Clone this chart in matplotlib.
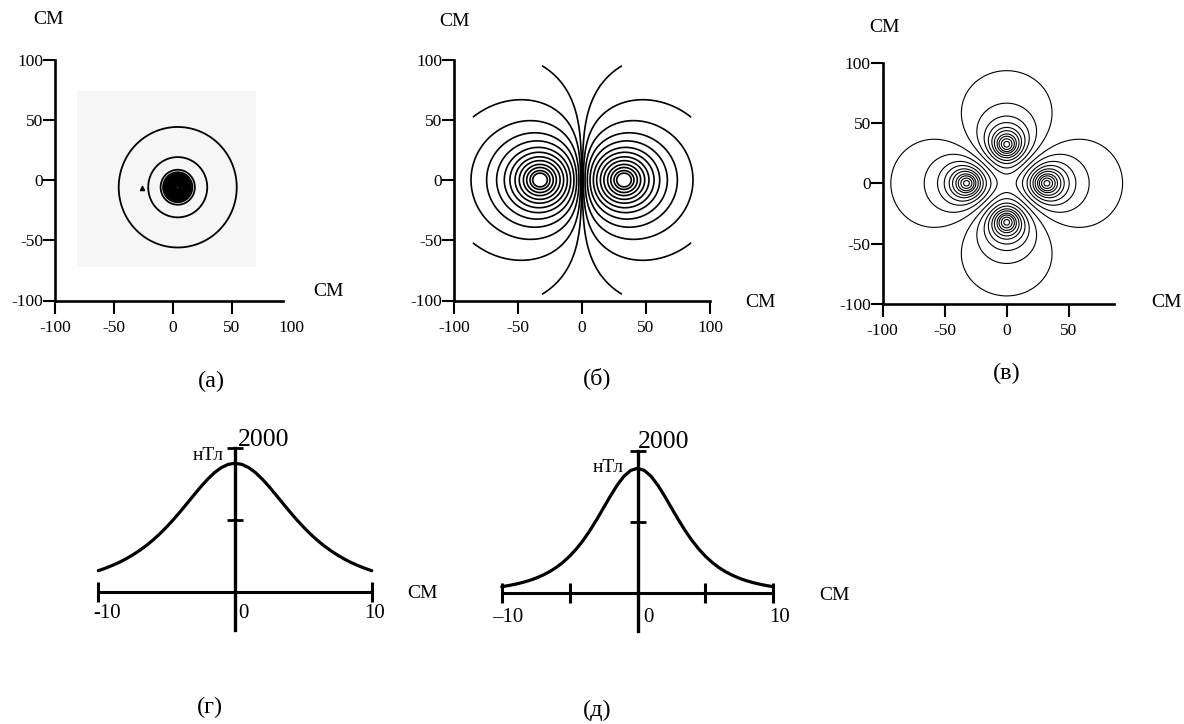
import numpy as np
import matplotlib
matplotlib.use('Agg')
import matplotlib.pyplot as plt

plt.rcParams['font.family'] = ['Liberation Serif', 'DejaVu Serif']
plt.rcParams['axes.unicode_minus'] = False

W, H = 1184, 724
fig = plt.figure(figsize=(W / 100, H / 100), dpi=100)

# ---------------- data ----------------
tick_vals = [-100, -50, 0, 50, 100]
tick_labels = ['-100', '-50', '0', '50', '100']
axis_unit = 'СМ'
field_unit = 'нТл'
panel_names = ['(а)', '(б)', '(в)', '(г)', '(д)']

# (а) single source: circle radii of the isolines (cm)
a_center = (4.0, -6.0)
a_radii = [50, 25, 14.5, 12.4, 11.2, 10.2, 9.5, 8.9, 8.3, 7.7, 7.1, 6.5,
           5.9, 5.3, 4.7, 4.1, 3.5, 2.9, 2.3, 1.7, 1.1]
a_grid_x = [-81, 70]
a_grid_y = [-72, 74]
a_mark = [(-26.5, -6.4)]

# (б) two opposite sources; isolines given by their x-axis crossings
b_src = [(-32.8, 0.0), (32.8, 0.0)]
b_sign = [1, -1]
b_kernel = (2, 0.0)          # power, depth
b_ring_x = [-86.7, -74.5, -66.7, -60.7, -56.3, -52.3, -49.0, -45.8, -43.2, -40.6, -38.5]
b_open_pts = [(-31.5, 95.0), (-84.4, 52.8)]
b_radius = 100

# (в) four alternating sources
c_src = [(31.0, 0.0), (0.0, 31.0), (-31.0, 0.0), (0.0, -31.0)]
c_sign = [1, -1, 1, -1]
c_kernel = (1, 15.0)         # power, depth
c_ring_x = [-93.3, -66.4, -55.7, -50.3, -46.3, -43.6, -40.9, -39.0, -36.9, -34.7]

# (г), (д) field profiles, nT
prof_x = np.linspace(-10, 10, 41)
g_vals = [300, 333, 371, 413, 462, 517, 579, 648, 726, 812, 908, 1011, 1121, 1236,
          1352, 1466, 1571, 1662, 1732, 1777, 1792, 1777, 1732, 1662, 1571, 1466,
          1352, 1236, 1121, 1011, 908, 812, 726, 648, 579, 517, 462, 413, 371, 333, 300]
d_vals = [93, 109, 128, 151, 178, 212, 253, 302, 362, 435, 522, 626, 747, 886,
          1040, 1204, 1369, 1522, 1648, 1731, 1760, 1731, 1648, 1522, 1369, 1204,
          1040, 886, 747, 626, 522, 435, 362, 302, 253, 212, 178, 151, 128, 109, 93]
prof_ticks_y = [0, 1000, 2000]
g_ticks_x = [-10, 10]
d_ticks_x = [-10, -5, 5, 10]


# ---------------- helpers ----------------
def axes_px(x0, x1, ytop, ybot):
    return fig.add_axes([x0 / W, 1 - ybot / H, (x1 - x0) / W, (ybot - ytop) / H])


def ftext(x, y, s, size, ha='center', va='center', **kw):
    fig.text(x / W, 1 - y / H, s, fontsize=size, ha=ha, va=va, **kw)


def field(X, Y, src, sign, kernel):
    n, h = kernel
    X = np.asarray(X, dtype=float)
    Y = np.asarray(Y, dtype=float)
    F = np.zeros_like(X)
    for (sx, sy), s in zip(src, sign):
        F += s / ((X - sx) ** 2 + (Y - sy) ** 2 + h * h + 1e-9) ** (n / 2)
    return F


def style_top(ax, xbound, xticks, xlabels, hide_last=False):
    ax.set_xlim(-100, 100)
    ax.set_ylim(-100, 100)
    ax.patch.set_alpha(0)
    for s in ['top', 'right']:
        ax.spines[s].set_visible(False)
    for s in ['left', 'bottom']:
        ax.spines[s].set_linewidth(1.9)
    ax.spines['bottom'].set_bounds(*xbound)
    ax.spines['left'].set_bounds(-100, 100)
    ax.set_xticks(xticks)
    ax.set_xticklabels(xlabels)
    ax.set_yticks(tick_vals)
    ax.set_yticklabels(tick_labels)
    ax.tick_params(axis='x', direction='out', length=9, width=1.5, labelsize=12.5, pad=5)
    ax.tick_params(axis='y', direction='out', length=8.5, width=1.5, labelsize=12.5, pad=0)
    if hide_last:
        t = ax.xaxis.get_major_ticks()[-1]
        t.tick1line.set_visible(False)


grid = np.linspace(-100, 100, 801)
X, Y = np.meshgrid(grid, grid)

# ---------------- (а) ----------------
axA = axes_px(55, 291, 59.5, 300.5)
gx = np.linspace(a_grid_x[0], a_grid_x[1], 600)
gy = np.linspace(a_grid_y[0], a_grid_y[1], 600)
GX, GY = np.meshgrid(gx, gy)
FA = 1.0 / np.sqrt((GX - a_center[0]) ** 2 + (GY - a_center[1]) ** 2 + 1e-9)
axA.fill_between(a_grid_x, a_grid_y[0], a_grid_y[1], color='#f6f6f6', lw=0, zorder=0)
axA.contour(GX, GY, FA, levels=sorted(1.0 / r for r in a_radii), colors='k',
            linewidths=1.3, linestyles='solid')
axA.plot([p[0] for p in a_mark], [p[1] for p in a_mark], marker='^', color='k', ms=3, ls='none')
style_top(axA, (-100, 93), tick_vals, tick_labels, hide_last=True)

# ---------------- (б) ----------------
axB = axes_px(454, 710, 59.5, 300.5)
FB = field(X, Y, b_src, b_sign, b_kernel)
FB[X ** 2 + Y ** 2 > b_radius ** 2] = np.nan
pts = [(x, 0.0) for x in b_ring_x] + list(b_open_pts)
lv = [float(field([px], [py], b_src, b_sign, b_kernel)[0]) for px, py in pts]
levelsB = sorted(lv + [-v for v in lv])
axB.contour(X, Y, FB, levels=levelsB, colors='k', linewidths=1.2, linestyles='solid')
style_top(axB, (-100, 100), tick_vals, tick_labels)

# ---------------- (в) ----------------
axC = axes_px(882.5, 1130.9, 62.6, 304)
FC = field(X, Y, c_src, c_sign, c_kernel)
lc = [float(field([x], [0.0], c_src, c_sign, c_kernel)[0]) for x in c_ring_x]
levelsC = sorted(lc + [-v for v in lc])
axC.contour(X, Y, FC, levels=levelsC, colors='k', linewidths=0.8, linestyles='solid')
style_top(axC, (-100, 86), tick_vals[:4], tick_labels[:4])

# top-panel labels
ftext(49, 20, axis_unit, 14)
ftext(328, 292, axis_unit, 14)
ftext(454, 22, axis_unit, 14)
ftext(760, 303, axis_unit, 14)
ftext(885, 28, axis_unit, 14)
ftext(1166, 303, axis_unit, 14)
ftext(211, 381, panel_names[0], 17.5)
ftext(597, 378, panel_names[1], 17.5)
ftext(1007, 373, panel_names[2], 17.5)


# ---------------- (г), (д) ----------------
def style_prof(ax, xticks):
    ax.set_xlim(-13, 13)
    ax.set_ylim(-700, 2300)
    ax.patch.set_alpha(0)
    for s in ['top', 'right']:
        ax.spines[s].set_visible(False)
    ax.spines['left'].set_position(('data', 0))
    ax.spines['bottom'].set_position(('data', 0))
    ax.spines['left'].set_bounds(-525, 2000)
    ax.spines['bottom'].set_bounds(-10, 10)
    ax.spines['left'].set_linewidth(2.4)
    ax.spines['bottom'].set_linewidth(2.2)
    ax.set_xticks(xticks)
    ax.set_xticklabels([])
    ax.set_yticks(prof_ticks_y)
    ax.set_yticklabels([])
    ax.tick_params(axis='x', direction='inout', length=14, width=2.2)
    ax.tick_params(axis='y', direction='inout', length=12, width=2.0)


axG = axes_px(57.3, 412.7, 426.7, 642.7)
axG.plot(prof_x, g_vals, color='k', lw=2.3, solid_capstyle='round')
style_prof(axG, g_ticks_x)

axD = axes_px(461.0, 814.0, 430.0, 643.0)
axD.plot(prof_x, d_vals, color='k', lw=2.3, solid_capstyle='round')
style_prof(axD, d_ticks_x)

ftext(238, 440, '2000', 18.5, ha='left')
ftext(224, 456, field_unit, 14, ha='right')
ftext(107, 613, '-10', 15)
ftext(243, 613, '0', 15)
ftext(375, 613, '10', 15)
ftext(422, 593, axis_unit, 14)
ftext(210, 707, panel_names[3], 17.5)

ftext(638, 442, '2000', 18.5, ha='left')
ftext(624, 468, field_unit, 14, ha='right')
ftext(508, 617, '–10', 15)
ftext(648, 617, '0', 15)
ftext(780, 617, '10', 15)
ftext(835, 595, axis_unit, 14)
ftext(597, 710, panel_names[4], 17.5)

fig.savefig('out.png', dpi=100)
